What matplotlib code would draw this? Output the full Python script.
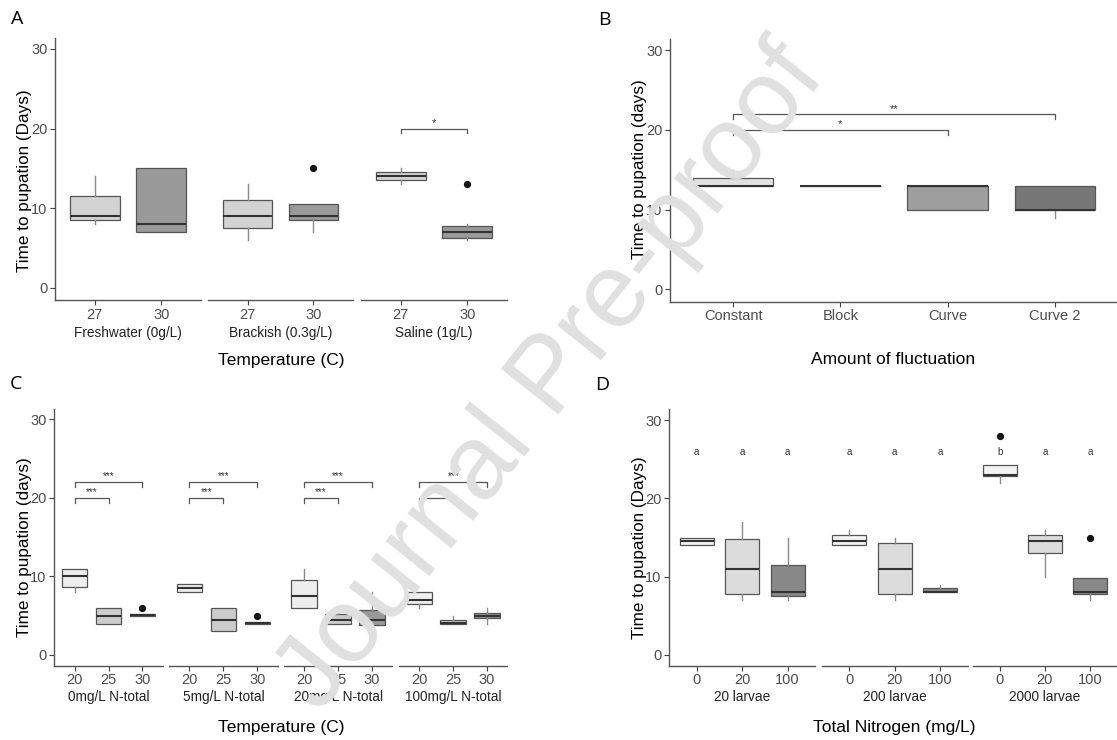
import matplotlib
matplotlib.use("Agg")
import matplotlib.pyplot as plt

plt.rcParams['font.family'] = ['Liberation Sans', 'DejaVu Sans']

# ---------------- DATA ----------------
# Panel A
salinity = ["Freshwater (0g/L)", "Brackish (0.3g/L)", "Saline (1g/L)"]
temps_A = ["27", "30"]
A_q1 = [[8.5, 7.0], [7.5, 8.5], [13.5, 6.3]]
A_med = [[9, 8], [9, 9], [14, 7]]
A_q3 = [[11.5, 15], [11, 10.5], [14.5, 7.8]]
A_lo = [[8, 7], [6, 7], [13, 6]]
A_hi = [[14, 15], [13, 10.5], [15, 8]]
A_out = [[[], []], [[], [15]], [[], [13]]]

# Panel B
fluct = ["Constant", "Block", "Curve", "Curve 2"]
B_q1 = [13, 13, 10, 10]
B_med = [13, 13, 13, 10]
B_q3 = [14, 13, 13, 13]
B_lo = [13, 13, 10, 9]
B_hi = [15, 13, 13, 13]
B_out = [[], [], [], []]

# Panel C
nitro_C = ["0mg/L N-total", "5mg/L N-total", "20mg/L N-total", "100mg/L N-total"]
temps_C = ["20", "25", "30"]
C_q1 = [[8.7, 4, 5.0], [8, 3, 4.0], [6, 4, 3.8], [6.5, 4, 4.7]]
C_med = [[10, 5, 5.1], [8.5, 4.5, 4.1], [7.5, 4.5, 4.5], [7, 4.1, 5]]
C_q3 = [[11, 6, 5.2], [9, 6, 4.2], [9.5, 5.2, 5.7], [8, 4.5, 5.3]]
C_lo = [[8, 4, 5.0], [8, 3, 4.0], [6, 4, 3], [6, 4, 4]]
C_hi = [[11, 6, 5.2], [9, 6, 4.2], [11, 6, 8], [8, 5, 6]]
C_out = [[[], [], [6]], [[], [], [5]], [[], [], []], [[], [], []]]

# Panel D
larvae = ["20 larvae", "200 larvae", "2000 larvae"]
nitro_D = ["0", "20", "100"]
D_q1 = [[14, 7.8, 7.5], [14, 7.8, 8], [22.8, 13, 7.8]]
D_med = [[14.5, 11, 8], [14.5, 11, 8.1], [23, 14.5, 8]]
D_q3 = [[15, 14.8, 11.5], [15.3, 14.3, 8.5], [24.3, 15.3, 9.8]]
D_lo = [[14, 7, 7], [14, 7, 8], [22, 10, 7]]
D_hi = [[15, 17, 15], [16, 15, 9], [24.3, 16, 9.8]]
D_out = [[[], [], []], [[], [], []], [[28], [], [15]]]
D_letters = [["a", "a", "a"], ["a", "a", "a"], ["b", "a", "a"]]

# ---------------- STYLE ----------------
fills_A = ["#d3d3d3", "#999999"]
fills_B = ["#e2e2e2", "#d0d0d0", "#9e9e9e", "#777777"]
fills_C = ["#eeeeee", "#cccccc", "#999999"]
fills_D = ["#f2f2f2", "#dcdcdc", "#888888"]

W, H = 1117, 740
fig = plt.figure(figsize=(W / 100, H / 100), dpi=100)


def fx(px):
    return px / W


def fy(py):
    return 1 - py / H


def ylim_from(y0, y30, top, bottom):
    k = (y0 - y30) / 30.0
    return ((y0 - bottom) / k, (y0 - top) / k)


def make_ax(left, right, top, bottom, xlim, ylim, first):
    ax = fig.add_axes([fx(left), fy(bottom), (right - left) / W, (bottom - top) / H])
    ax.set_xlim(*xlim)
    ax.set_ylim(*ylim)
    ax.set_facecolor("none")
    for s in ("top", "right"):
        ax.spines[s].set_visible(False)
    ax.spines["bottom"].set_color("#555555")
    ax.spines["bottom"].set_linewidth(1.0)
    ax.spines["left"].set_color("#555555")
    ax.spines["left"].set_linewidth(1.0)
    ax.tick_params(axis="both", colors="#444444", labelcolor="#4d4d4d",
                   labelsize=10.5, length=3.5, width=0.8, pad=2)
    if first:
        ax.set_yticks([0, 10, 20, 30])
    else:
        ax.spines["left"].set_visible(False)
        ax.set_yticks([])
    return ax


def draw_boxes(ax, cats, q1, med, q3, lo, hi, out, fills):
    stats = []
    for i in range(len(cats)):
        stats.append(dict(med=med[i], q1=q1[i], q3=q3[i],
                          whislo=lo[i], whishi=hi[i], fliers=out[i]))
    pos = list(range(1, len(cats) + 1))
    res = ax.bxp(stats, positions=pos, widths=0.75, patch_artist=True,
                 showcaps=False, manage_ticks=False,
                 boxprops=dict(edgecolor="#555555", linewidth=0.9),
                 medianprops=dict(color="#333333", linewidth=1.5),
                 whiskerprops=dict(color="#8a8a8a", linewidth=1.0),
                 flierprops=dict(marker="o", markerfacecolor="#151515",
                                 markeredgecolor="#151515", markersize=4.2))
    for b, c in zip(res["boxes"], fills):
        b.set_facecolor(c)
    ax.set_xticks(pos)
    ax.set_xticklabels(cats)


def bracket(ax, x1, x2, y, label, ytxt, fs=8):
    ax.plot([x1, x1, x2, x2], [y - 0.6, y, y, y - 0.6], color="#555555", lw=0.9,
            clip_on=False)
    ax.text((x1 + x2) / 2, ytxt, label, ha="center", va="baseline",
            fontsize=fs, color="#333333")


# ---------------- PANEL A ----------------
ylA = ylim_from(287.7, 49, 38, 300)
facets_A = [(55, 201), (208, 353), (361, 507)]
for j, (l, r) in enumerate(facets_A):
    ax = make_ax(l, r, 38, 300, (0.4, 2.6), ylA, j == 0)
    draw_boxes(ax, temps_A, A_q1[j], A_med[j], A_q3[j], A_lo[j], A_hi[j],
               A_out[j], fills_A)
    fig.text(fx((l + r) / 2), fy(333), salinity[j], ha="center", va="center",
             fontsize=9.8, color="#222222")
    if j == 2:
        bracket(ax, 1, 2, 20, "*", 20.3)
fig.text(fx(281), fy(360), "Temperature (C)", ha="center", va="center", fontsize=12.5)
fig.text(fx(24.5), fy(181), "Time to pupation (Days)", ha="center", va="center",
         rotation=90, fontsize=12.3)

# ---------------- PANEL B ----------------
ylB = ylim_from(289.3, 50, 39, 301.7)
axB = make_ax(670, 1117, 39, 301.7, (0.41, 4.58), ylB, True)
draw_boxes(axB, fluct, B_q1, B_med, B_q3, B_lo, B_hi, B_out, fills_B)
bracket(axB, 1, 3, 20, "*", 20.3)
bracket(axB, 1, 4, 22, "**", 22.2)
fig.text(fx(893), fy(360), "Amount of fluctuation", ha="center", va="center", fontsize=12.5)
fig.text(fx(639.5), fy(169), "Time to pupation (days)", ha="center", va="center",
         rotation=90, fontsize=12.3)

# ---------------- PANEL C ----------------
ylC = ylim_from(655, 419.3, 409, 665.7)
facets_C = [(54.3, 162.7), (169, 277.7), (283.7, 392.3), (399, 507.3)]
for j, (l, r) in enumerate(facets_C):
    ax = make_ax(l, r, 409, 665.7, (0.4, 3.6), ylC, j == 0)
    draw_boxes(ax, temps_C, C_q1[j], C_med[j], C_q3[j], C_lo[j], C_hi[j],
               C_out[j], fills_C)
    fig.text(fx((l + r) / 2), fy(696.7), nitro_C[j], ha="center", va="center",
             fontsize=9.8, color="#222222")
    bracket(ax, 1, 2, 20, "***", 20.3, fs=7)
    bracket(ax, 1, 3, 22, "***", 22.4, fs=7)
fig.text(fx(281.5), fy(727.7), "Temperature (C)", ha="center", va="center", fontsize=12.5)
fig.text(fx(24.5), fy(547.5), "Time to pupation (days)", ha="center", va="center",
         rotation=90, fontsize=12.3)

# ---------------- PANEL D ----------------
ylD = ylim_from(655, 420, 409, 665.7)
facets_D = [(669.3, 815), (821.7, 967.7), (972.7, 1117)]
for j, (l, r) in enumerate(facets_D):
    ax = make_ax(l, r, 409, 665.7, (0.4, 3.6), ylD, j == 0)
    draw_boxes(ax, nitro_D, D_q1[j], D_med[j], D_q3[j], D_lo[j], D_hi[j],
               D_out[j], fills_D)
    fig.text(fx((l + r) / 2), fy(696.7), larvae[j], ha="center", va="center",
             fontsize=9.8, color="#222222")
    for i, letter in enumerate(D_letters[j]):
        ax.text(i + 1, 25.5, letter, ha="center", va="baseline", fontsize=7,
                color="#333333")
fig.text(fx(894), fy(727.7), "Total Nitrogen (mg/L)", ha="center", va="center", fontsize=12.5)
fig.text(fx(639.5), fy(548), "Time to pupation (Days)", ha="center", va="center",
         rotation=90, fontsize=12.3)

# ---------------- PANEL LETTERS ----------------
for lab, x, y in [("A", 17, 19.5), ("B", 604, 20), ("C", 16, 384), ("D", 602, 385)]:
    fig.text(fx(x), fy(y), lab, ha="center", va="center", fontsize=14,
             family=["Open Sans", "DejaVu Sans"])

# ---------------- WATERMARK ----------------
fig.text(fx(552), fy(378), "Journal Pre-proof", ha="center", va="center",
         rotation=51.5, fontsize=76, color="#e0e0e0", zorder=100)

fig.savefig("out.png", dpi=100)
